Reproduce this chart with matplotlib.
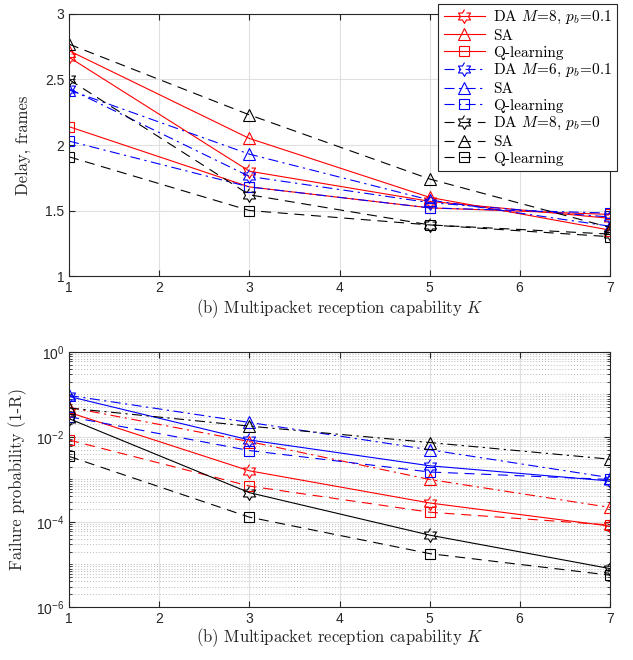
import numpy as np
import matplotlib
matplotlib.use("Agg")
import matplotlib.pyplot as plt
from matplotlib.ticker import FixedLocator, LogLocator, NullFormatter

# ======== Data ========

K = [1, 3, 5, 7]

# Delay (frames)
delay_da_m8_pb01 = [2.67, 1.80, 1.57, 1.44]
delay_sa_m8_pb01 = [2.72, 2.05, 1.60, 1.35]
delay_q_m8_pb01 = [2.14, 1.68, 1.52, 1.47]
delay_da_m6_pb01 = [2.43, 1.76, 1.56, 1.45]
delay_sa_m6_pb01 = [2.42, 1.93, 1.58, 1.38]
delay_q_m6_pb01 = [2.03, 1.68, 1.52, 1.48]
delay_da_m8_pb0 = [2.50, 1.62, 1.39, 1.32]
delay_sa_m8_pb0 = [2.77, 2.23, 1.74, 1.37]
delay_q_m8_pb0 = [1.91, 1.50, 1.39, 1.30]

# Failure probability (1-R)
fail_da_m8_pb01 = [0.038, 0.0016, 0.00028, 8.0e-5]
fail_sa_m8_pb01 = [0.050, 0.0078, 0.0010, 0.00022]
fail_q_m8_pb01 = [0.0085, 0.0007, 0.00017, 8.5e-5]
fail_da_m6_pb01 = [0.090, 0.0085, 0.0021, 0.00092]
fail_sa_m6_pb01 = [0.095, 0.022, 0.0050, 0.0011]
fail_q_m6_pb01 = [0.030, 0.0048, 0.0015, 0.0010]
fail_da_m8_pb0 = [0.027, 0.00049, 4.9e-5, 8.0e-6]
fail_sa_m8_pb0 = [0.048, 0.018, 0.0074, 0.0030]
fail_q_m8_pb0 = [0.0035, 0.00013, 1.8e-5, 5.6e-6]

LABELS = [r"DA $M\!=\!8$, $p_b\!=\!0.1$", "SA", "Q-learning",
          r"DA $M\!=\!6$, $p_b\!=\!0.1$", "SA", "Q-learning",
          r"DA $M\!=\!8$, $p_b\!=\!0$", "SA", "Q-learning"]

# ======== Style ========

# sans (Helvetica-like) for tick labels, Computer Modern for labels/legend
plt.rcParams["font.family"] = "Liberation Sans"
plt.rcParams["mathtext.fontset"] = "custom"
plt.rcParams["mathtext.rm"] = "Liberation Sans"
plt.rcParams["mathtext.it"] = "Liberation Sans:italic"
plt.rcParams["axes.unicode_minus"] = False
plt.rcParams["axes.formatter.use_mathtext"] = True

SERIF = "cmr10"

# hexagram marker (MATLAB 'h')
ang = np.deg2rad(90 + 30 * np.arange(12))
rad = np.where(np.arange(12) % 2 == 0, 1.0, 0.577)
HEX = list(zip(rad * np.cos(ang), rad * np.sin(ang)))

DASH = (0, (9, 6))
DASHDOT = (0, (9, 4, 2, 4))
LW = 0.8
TXT = "#262626"


def style_ticks(ax):
    ax.tick_params(direction="in", top=True, right=True, which="both",
                   labelsize=10, colors=TXT, length=4)
    ax.tick_params(which="minor", length=2)
    for s in ax.spines.values():
        s.set_color(TXT)
        s.set_linewidth(0.8)


def draw(ax, series, labels=None):
    for i, (y, c, ls, m) in enumerate(series):
        ms = 7 if m == "s" else (10 if m is HEX else 9)
        ax.plot(K, y, color=c, linestyle=ls, marker=m, markersize=ms,
                markerfacecolor="none", markeredgecolor=c, markeredgewidth=0.8,
                linewidth=LW, label=labels[i] if labels else None)


fig = plt.figure(figsize=(6.33, 6.6), dpi=100)
ax1 = fig.add_axes([0.109, 0.5818, 0.855, 0.397])
ax2 = fig.add_axes([0.109, 0.0803, 0.855, 0.3864])

# ======== Top panel: delay ========

top_series = [
    (delay_da_m8_pb01, "red", "-", HEX),
    (delay_sa_m8_pb01, "red", "-", "^"),
    (delay_q_m8_pb01, "red", "-", "s"),
    (delay_da_m6_pb01, "blue", DASHDOT, HEX),
    (delay_sa_m6_pb01, "blue", DASHDOT, "^"),
    (delay_q_m6_pb01, "blue", DASHDOT, "s"),
    (delay_da_m8_pb0, "black", DASH, HEX),
    (delay_sa_m8_pb0, "black", DASH, "^"),
    (delay_q_m8_pb0, "black", DASH, "s"),
]
draw(ax1, top_series, LABELS)

ax1.set_xlim(1, 7)
ax1.set_ylim(1, 3)
ax1.set_xticks(range(1, 8))
ax1.set_yticks([1, 1.5, 2, 2.5, 3])
ax1.set_yticklabels(["1", "1.5", "2", "2.5", "3"])
ax1.grid(True, color="#e0e0e0", linewidth=0.8)
ax1.set_axisbelow(True)
ax1.set_ylabel("Delay, frames", fontsize=12, labelpad=10, family=SERIF, color=TXT)
ax1.set_xlabel(r"(b) Multipacket reception capability $K$", fontsize=12,
               labelpad=2, family=SERIF, color=TXT, math_fontfamily="cm")
style_ticks(ax1)

leg = ax1.legend(loc="upper right", bbox_to_anchor=(0.975, 0.994),
                 bbox_transform=fig.transFigure, borderaxespad=0,
                 prop={"family": SERIF, "size": 11}, fancybox=False,
                 framealpha=1, edgecolor=TXT,
                 handlelength=2.7, handletextpad=0.5, labelspacing=0.18,
                 borderpad=0.35)
leg.get_frame().set_linewidth(0.8)
for t in leg.get_texts():
    t.set_math_fontfamily("cm")

# ======== Bottom panel: failure probability ========

bottom_series = [
    (fail_da_m8_pb01, "red", "-", HEX),
    (fail_sa_m8_pb01, "red", DASHDOT, "^"),
    (fail_q_m8_pb01, "red", DASH, "s"),
    (fail_da_m6_pb01, "blue", "-", HEX),
    (fail_sa_m6_pb01, "blue", DASHDOT, "^"),
    (fail_q_m6_pb01, "blue", DASH, "s"),
    (fail_da_m8_pb0, "black", "-", HEX),
    (fail_sa_m8_pb0, "black", DASHDOT, "^"),
    (fail_q_m8_pb0, "black", DASH, "s"),
]
draw(ax2, bottom_series)

ax2.set_yscale("log")
ax2.set_xlim(1, 7)
ax2.set_ylim(1e-6, 1)
ax2.set_xticks(range(1, 8))
ax2.yaxis.set_major_locator(FixedLocator([1e-6, 1e-4, 1e-2, 1]))
ax2.yaxis.set_minor_locator(LogLocator(base=10, subs=np.arange(1, 10), numticks=20))
ax2.yaxis.set_minor_formatter(NullFormatter())
ax2.grid(True, which="major", color="#e0e0e0", linewidth=0.8)
ax2.grid(True, which="minor", axis="y", color="#b8b8b8", linestyle=(0, (1, 2)), linewidth=0.7)
ax2.set_axisbelow(True)
ax2.set_ylabel("Failure probability (1-R)", fontsize=12, labelpad=6, family=SERIF, color=TXT)
ax2.set_xlabel(r"(b) Multipacket reception capability $K$", fontsize=12,
               labelpad=0, family=SERIF, color=TXT, math_fontfamily="cm")
style_ticks(ax2)

fig.savefig("out.png", dpi=100)
